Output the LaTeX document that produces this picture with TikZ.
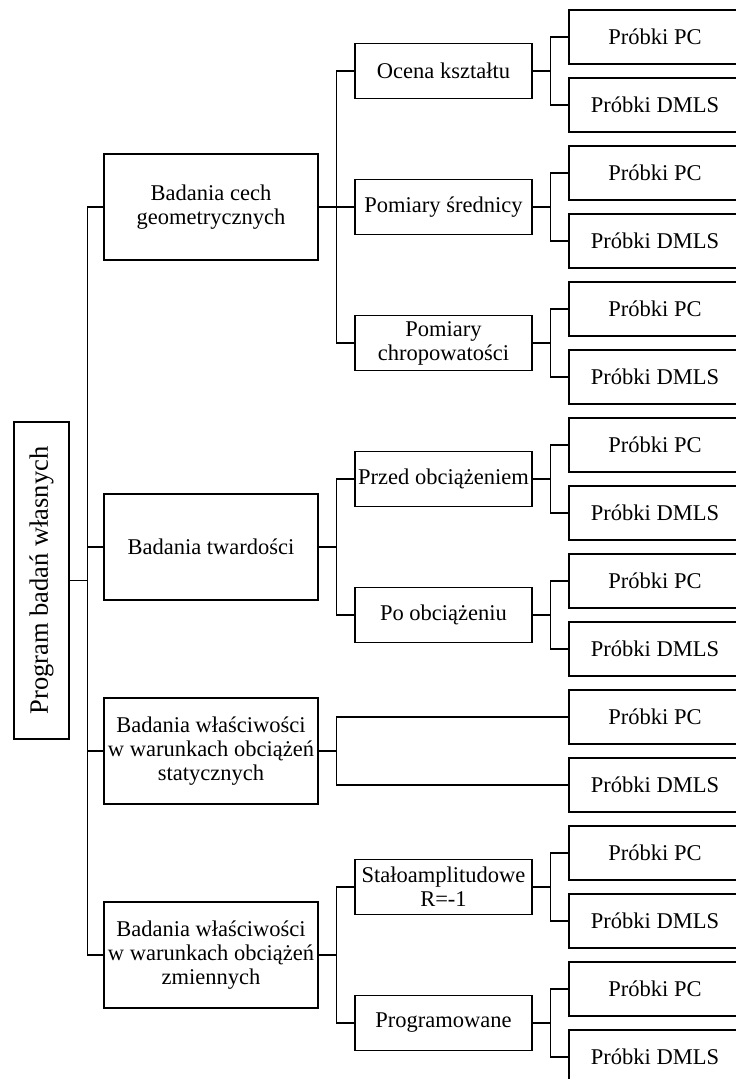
\documentclass[tikz,border=0pt]{standalone}
\usepackage{fontspec}
\setmainfont{Liberation Serif}
\begin{document}
\begin{tikzpicture}[x=1pt,y=-1pt,
  box/.style={draw=black, line width=1.1pt, align=center, inner sep=0pt, fill=white,
    font=\fontsize{22.5}{24}\selectfont},
  lone/.style={box, minimum width=214pt, minimum height=106pt},
  ltwo/.style={box, minimum width=177pt, minimum height=55pt},
  leaf/.style={box, minimum width=172pt, minimum height=54pt},
  conn/.style={draw=black, line width=1.1pt}]
\useasboundingbox (0,0) rectangle (736,1079);
\clip (0,0) rectangle (736,1079);
\fill[white] (0,0) rectangle (736,1079);

% root
\node[box, minimum width=55pt, minimum height=317pt, font=\fontsize{26.5}{28}\selectfont] (root) at (41.5,580.5)
  {\rotatebox{90}{Program badań własnych}};

% level 1
\node[lone] (l1a) at (211,207) {Badania cech\\geometrycznych};
\node[lone] (l1b) at (211,547) {Badania twardości};
\node[lone] (l1c) at (211,751) {Badania właściwości\\w warunkach obciążeń\\statycznych};
\node[lone] (l1d) at (211,955) {Badania właściwości\\w warunkach obciążeń\\zmiennych};

% level 2
\node[ltwo] (ocena) at (443.5,71) {Ocena kształtu};
\node[ltwo] (sred) at (443.5,207) {Pomiary średnicy};
\node[ltwo] (chrop) at (443.5,343) {Pomiary\\chropowatości};
\node[ltwo] (przed) at (443.5,479) {Przed obciążeniem};
\node[ltwo] (po) at (443.5,615) {Po obciążeniu};
\node[ltwo] (stalo) at (443.5,887) {Stałoamplitudowe\\R=-1};
\node[ltwo] (prog) at (443.5,1023) {Programowane};

% leaves
\foreach \k in {0,...,15} {
  \pgfmathsetmacro\yy{37+68*\k}
  \ifodd\k
    \node[leaf] (leaf\k) at (655,\yy) {Próbki DMLS};
  \else
    \node[leaf] (leaf\k) at (655,\yy) {Próbki PC};
  \fi
}

% root to level 1
\draw[conn] (root.east) -- ++(18,0) |- (l1a.west);
\draw[conn] (root.east) ++(18,0) |- (l1b.west);
\draw[conn] (root.east) ++(18,0) |- (l1c.west);
\draw[conn] (root.east) ++(18,0) |- (l1d.west);

% level 1 to level 2
\draw[conn] (l1a.east) -- ++(18,0) |- (ocena.west);
\draw[conn] (l1a.east) ++(18,0) |- (sred.west);
\draw[conn] (l1a.east) ++(18,0) |- (chrop.west);
\draw[conn] (l1b.east) -- ++(18,0) |- (przed.west);
\draw[conn] (l1b.east) ++(18,0) |- (po.west);
\draw[conn] (l1c.east) -- ++(18,0) |- (leaf10.west);
\draw[conn] (l1c.east) ++(18,0) |- (leaf11.west);
\draw[conn] (l1d.east) -- ++(18,0) |- (stalo.west);
\draw[conn] (l1d.east) ++(18,0) |- (prog.west);

% level 2 to leaves
\draw[conn] (ocena.east) -- ++(18,0) |- (leaf0.west);
\draw[conn] (ocena.east) ++(18,0) |- (leaf1.west);
\draw[conn] (sred.east) -- ++(18,0) |- (leaf2.west);
\draw[conn] (sred.east) ++(18,0) |- (leaf3.west);
\draw[conn] (chrop.east) -- ++(18,0) |- (leaf4.west);
\draw[conn] (chrop.east) ++(18,0) |- (leaf5.west);
\draw[conn] (przed.east) -- ++(18,0) |- (leaf6.west);
\draw[conn] (przed.east) ++(18,0) |- (leaf7.west);
\draw[conn] (po.east) -- ++(18,0) |- (leaf8.west);
\draw[conn] (po.east) ++(18,0) |- (leaf9.west);
\draw[conn] (stalo.east) -- ++(18,0) |- (leaf12.west);
\draw[conn] (stalo.east) ++(18,0) |- (leaf13.west);
\draw[conn] (prog.east) -- ++(18,0) |- (leaf14.west);
\draw[conn] (prog.east) ++(18,0) |- (leaf15.west);
\end{tikzpicture}
\end{document}
